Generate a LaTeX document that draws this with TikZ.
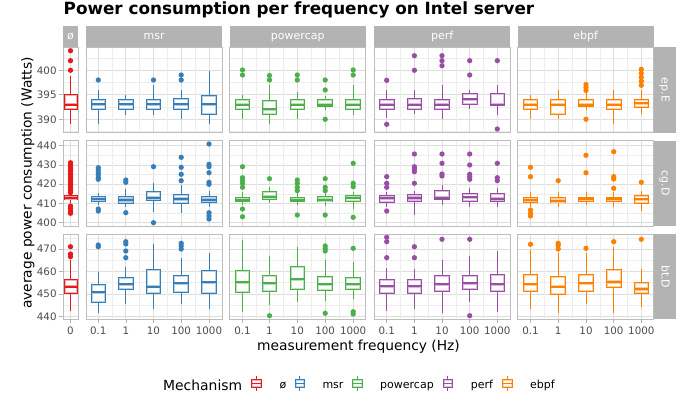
\documentclass[tikz,border=0pt]{standalone}
\usepackage{fontspec}
\setmainfont{DejaVu Sans}
\definecolor{cz}{HTML}{E41A1C}
\definecolor{cb}{HTML}{377EB8}
\definecolor{cg}{HTML}{4DAF4A}
\definecolor{cp}{HTML}{984EA3}
\definecolor{co}{HTML}{FF7F00}
\definecolor{grey70}{HTML}{B3B3B3}
\definecolor{grey30}{HTML}{4D4D4D}
\definecolor{grey87}{HTML}{DEDEDE}
\definecolor{grey93}{HTML}{EDEDED}
\newcommand{\bp}[8]{%
  \draw[#1,line width=1pt] (#2,#4) -- (#2,#5) (#2,#7) -- (#2,#8);
  \fill[white] (#2-#3,#5) rectangle (#2+#3,#7);
  \draw[#1!35,line width=1pt] (#2-#3+1,#5+1) rectangle (#2+#3-1,#7-1);
  \draw[#1,line width=1pt] (#2-#3,#5) rectangle (#2+#3,#7);
  \draw[#1!40,line width=3.4pt] (#2-#3+0.5,#6) -- (#2+#3-0.5,#6);
  \draw[#1,line width=2pt] (#2-#3,#6) -- (#2+#3,#6);
}
\newcommand{\ol}[3]{\foreach \yy in {#3} {\fill[#1] (#2,\yy) circle (2.65);}}
\newcommand{\rowgrid}[4]{%
  \foreach \px/\qx in {63/78,86/222.3,229.6/365.9,374/510.3,517.6/653.9} {
    \fill[white] (\px,#1) rectangle (\qx,#2);
    \foreach \yy in {#3} {\draw[gmin] (\px,\yy) -- (\qx,\yy);}
    \foreach \yy in {#4} {\draw[gmaj] (\px,\yy) -- (\qx,\yy);}
  }
  \foreach \xx in {112,139.6,167.3,195.1,256,283.4,311.2,339.2,400.5,428.2,455.8,483.5,544.3,572.1,599.8,627.5} {\draw[gmin] (\xx,#1) -- (\xx,#2);}
  \foreach \xx in {70.5,98.3,125.8,153.5,181.2,209,242.5,269.5,297.3,325.2,353.2,386.7,414.4,442,469.7,497.3,530.5,558.2,586,613.7,641.3} {\draw[gmaj] (\xx,#1) -- (\xx,#2);}
}
\newcommand{\rowborder}[2]{%
  \foreach \px/\qx in {63/78,86/222.3,229.6/365.9,374/510.3,517.6/653.9} {\draw[pborder] (\px,#1) rectangle (\qx,#2);}
}
\newcommand{\lk}[2]{%
  \draw[#1,line width=1pt] (#2+4.65,375.7) -- (#2+4.65,379.3) (#2+4.65,387.3) -- (#2+4.65,390.7);
  \fill[white] (#2,379.3) rectangle (#2+9.3,387.3);
  \draw[#1!35,line width=0.9pt] (#2+1,380.3) rectangle (#2+8.3,386.3);
  \draw[#1,line width=1pt] (#2,379.3) rectangle (#2+9.3,387.3);
  \draw[#1,line width=1.2pt] (#2,383.3) -- (#2+9.3,383.3);
}
\begin{document}
\begin{tikzpicture}[x=1pt,y=-1pt,
  gmaj/.style={grey87,line width=0.7pt},
  gmin/.style={grey93,line width=0.45pt},
  pborder/.style={draw=grey70!85,line width=0.9pt},
  tk/.style={grey70,line width=0.6pt},
  ytl/.style={anchor=east,inner sep=0pt,text=grey30,font=\fontsize{10.3}{12}\selectfont},
  xtl/.style={anchor=base,inner sep=0pt,text=grey30,font=\fontsize{10.3}{12}\selectfont},
  striptxt/.style={inner sep=0pt,text=white,font=\fontsize{11}{13}\selectfont},
  legtxt/.style={anchor=base west,inner sep=0pt,font=\fontsize{11}{13}\selectfont}]
\useasboundingbox (0,0) rectangle (686,398);
\fill[white] (0,0) rectangle (686,398);
% title
\node[anchor=base west,inner sep=0pt,font=\bfseries\fontsize{16.8}{19}\selectfont] (title) at (63.5,15) {Power consumption per frequency on Intel server};
% top strips
\foreach \px/\qx in {63/78,86/222.3,229.6/365.9,374/510.3,517.6/653.9} {\fill[grey70] (\px,25.7) rectangle (\qx,47.3);}
\node[striptxt,anchor=base] (s0) at (70.5,39.7) {ø};
\node[striptxt,anchor=base] (s1) at (154.15,39.7) {msr};
\node[striptxt,anchor=base] (s2) at (297.75,39.7) {powercap};
\node[striptxt,anchor=base] (s3) at (442.15,39.7) {perf};
\node[striptxt,anchor=base] (s4) at (585.75,39.7) {ebpf};
% right strips
\fill[grey70] (654.3,47.3) rectangle (676,132.7);
\fill[grey70] (654.3,140.7) rectangle (676,226);
\fill[grey70] (654.3,234) rectangle (676,319.3);
\node[striptxt,rotate=-90,text height=1.6ex,text depth=0.2ex] (r1) at (665.5,90) {ep.E};
\node[striptxt,rotate=-90,text height=1.6ex,text depth=0.2ex] (r2) at (665.5,183.3) {cg.D};
\node[striptxt,rotate=-90,text height=1.6ex,text depth=0.2ex] (r3) at (665.5,276.7) {bt.D};
% grids
\rowgrid{47.3}{132.7}{58.1,82.6,107.1,131.6}{70.3,94.8,119.3}
\rowgrid{140.7}{226}{155.3,174.6,193.8,213.1}{145.7,164.9,184.2,203.4,222.7}
\rowgrid{234}{319.3}{237.8,260.2,282.7,305.1}{249,271.4,293.9,316.3}
% ===== Row 1 (ep.E)
\bp{cz}{70.5}{6.5}{76}{95}{104.7}{110}{124.3}\ol{cz}{70.5}{50.7,60.7,70.3}
\bp{cb}{98.3}{7.3}{90}{99.3}{104.3}{110}{124.3}\ol{cb}{98.3}{80}
\bp{cb}{125.8}{7.3}{95}{99.3}{104.3}{109.3}{115}
\bp{cb}{153.5}{7.3}{85}{99.3}{104.3}{110}{115}\ol{cb}{153.5}{80}
\bp{cb}{181.2}{7.3}{90}{98.3}{104.3}{110}{119.3}\ol{cb}{181.2}{75,80}
\bp{cb}{209}{7.3}{70.7}{96}{104.3}{115}{124.3}
\bp{cg}{242.5}{7.3}{95}{99.3}{104.7}{110}{119.3}\ol{cg}{242.5}{70,75}
\bp{cg}{269.5}{7.3}{85}{100.7}{109.3}{114.7}{124.3}\ol{cg}{269.5}{75.5,80}
\bp{cg}{297.3}{7.3}{91.7}{99.3}{104.7}{110}{119.3}\ol{cg}{297.3}{75,80}
\bp{cg}{325.2}{7.3}{96}{99.3}{104.7}{106.7}{110}\ol{cg}{325.2}{80,90,119.3}
\bp{cg}{353.2}{7.3}{85}{99.3}{104.7}{110}{115}\ol{cg}{353.2}{70,75}
\bp{cp}{386.7}{7.3}{90}{99.3}{104.7}{109.3}{118.3}\ol{cp}{386.7}{80.3,124.3}
\bp{cp}{414.4}{7.3}{90}{98.3}{104.7}{110}{114.3}\ol{cp}{414.4}{55.7,70.3}
\bp{cp}{442}{7.3}{85}{99.3}{104.7}{110}{119.3}\ol{cp}{442}{55.7,60.7,65.7}
\bp{cp}{469.7}{7.3}{90}{94}{99.3}{105}{109.3}\ol{cp}{469.7}{60.7,75}
\bp{cp}{497.3}{7.3}{85}{94}{104.7}{106}{115}\ol{cp}{497.3}{60.7,129}
\bp{co}{530.5}{7.3}{95}{99.3}{104.7}{110}{119.3}
\bp{co}{558.2}{7.3}{90}{99.3}{104.7}{115}{119.3}
\bp{co}{586}{7.3}{93.3}{99.3}{104.7}{106.7}{110}\ol{co}{586}{84.5,87.5,90.5,119.3}
\bp{co}{613.7}{7.3}{90}{99.3}{104.7}{110}{124.3}
\bp{co}{641.3}{7.3}{90}{99.3}{103.3}{107.3}{114.3}\ol{co}{641.3}{69.3,73.3,77.3,81.3,85.3}
% ===== Row 2 (cg.D)
\bp{cz}{70.5}{6.5}{193.5}{196}{198}{200}{203.5}\ol{cz}{70.5}{162.7,164.7,...,192.7}\ol{cz}{70.5}{206,208.5,211,213.3}
\bp{cb}{98.3}{7.3}{192.7}{197}{199.3}{201.3}{205}\ol{cb}{98.3}{167.7,170,172.7,175,177.7,179.3,209,211}
\bp{cb}{125.8}{7.3}{189.3}{197}{200}{203.3}{207.3}\ol{cb}{125.8}{180,182.3,212.7}
\bp{cb}{153.5}{7.3}{182.7}{191.7}{197.7}{201}{212.3}\ol{cb}{153.5}{166.7,222.7}
\bp{cb}{181.2}{7.3}{185}{194.3}{199}{203.3}{212.7}\ol{cb}{181.2}{157.3,167.3,174.3,180.7}
\bp{cb}{209}{7.3}{191}{197}{199.7}{202.3}{206.7}\ol{cb}{209}{144,164.3,166.7,172.7,182.3,184.3,212.7,216,219}
\bp{cg}{242.5}{7.3}{191.7}{197.3}{199.7}{202}{205}\ol{cg}{242.5}{166.7,177.7,180.5,183.3,187.3,209,216.7}
\bp{cg}{269.5}{7.3}{186.7}{191.7}{196.7}{200}{202.7}\ol{cg}{269.5}{178.7}
\bp{cg}{297.3}{7.3}{193.3}{197.3}{199.7}{202}{205}\ol{cg}{297.3}{180,183.3,187.3,190.7,215}
\bp{cg}{325.2}{7.3}{193.3}{197}{200}{202}{206}\ol{cg}{325.2}{178.7,187.3,190.7,215}
\bp{cg}{353.2}{7.3}{191.7}{195.3}{197.7}{202}{209}\ol{cg}{353.2}{163.3,183.3,186.7,217.3}
\bp{cp}{386.7}{7.3}{191.7}{196}{198.3}{202.7}{206.7}\ol{cp}{386.7}{176.7,183.3,187.3,211}
\bp{cp}{414.4}{7.3}{190.7}{194.3}{198}{201.7}{215}\ol{cp}{414.4}{154,166.7,169,171.7,183.3}
\bp{cp}{442}{7.3}{185}{191}{197.7}{200}{205}\ol{cp}{442}{154,163.3,174,176}
\bp{cp}{469.7}{7.3}{188.3}{193.3}{197.3}{201.7}{207.3}\ol{cp}{469.7}{154,165,174.3,176.7,179.3}
\bp{cp}{497.3}{7.3}{188.3}{194}{199}{202}{206.7}\ol{cp}{497.3}{163.3,177.7,180.7}
\bp{co}{530.5}{7.3}{192.3}{197.3}{200}{202.7}{207.3}\ol{co}{530.5}{167.3,176.7,210,213.3,216}
\bp{co}{558.2}{7.3}{192.3}{197.7}{201}{202.7}{206.7}\ol{co}{558.2}{180.7}
\bp{co}{586}{7.3}{192.3}{197.3}{199.3}{201.7}{205}\ol{co}{586}{155.3,172.7}
\bp{co}{613.7}{7.3}{192.3}{197.3}{199.3}{201.7}{207.3}\ol{co}{613.7}{151.7,176.7,179,188.3}
\bp{co}{641.3}{7.3}{191}{195.7}{199.3}{203.3}{210.7}\ol{co}{641.3}{182.3}
% ===== Row 3 (bt.D)
\bp{cz}{70.5}{6.5}{260}{280}{286.7}{293.7}{311}\ol{cz}{70.5}{246.7,254,256.7}
\bp{cb}{98.3}{7.3}{271.7}{284.3}{292.3}{303}{313.3}\ol{cb}{98.3}{245,246.7}
\bp{cb}{125.8}{7.3}{267.3}{277.3}{284.3}{289.3}{304.3}\ol{cb}{125.8}{241.7,244,251,257.7}
\bp{cb}{153.5}{7.3}{244.3}{270}{286.7}{293.7}{309}
\bp{cb}{181.2}{7.3}{258.3}{275.7}{283.3}{292.3}{304}\ol{cb}{181.2}{243.3,246,249}
\bp{cb}{209}{7.3}{253.3}{270.7}{282.3}{294}{309.3}
\bp{cg}{242.5}{7.3}{240}{270.3}{282.3}{292.3}{311.7}
\bp{cg}{269.5}{7.3}{255.7}{275.7}{283.3}{291.7}{305}\ol{cg}{269.5}{315.7}
\bp{cg}{297.3}{7.3}{246.7}{266.7}{279.3}{289.3}{302.3}
\bp{cg}{325.2}{7.3}{260}{277}{284.3}{290.3}{301}\ol{cg}{325.2}{246,248.3,251,313.3}
\bp{cg}{353.2}{7.3}{262.3}{277.3}{284.3}{289.7}{299}\ol{cg}{353.2}{248.3,311.7,314}
\bp{cp}{386.7}{7.3}{268.3}{279.3}{286.3}{293.3}{311}\ol{cp}{386.7}{237.3,241.7,257.7}
\bp{cp}{414.4}{7.3}{269}{279.3}{286.3}{293.3}{309}\ol{cp}{414.4}{246.7,257.7}
\bp{cp}{442}{7.3}{260}{275.7}{284.3}{291.7}{313.3}\ol{cp}{442}{239.3}
\bp{cp}{469.7}{7.3}{255.7}{275.7}{283.3}{290}{302.3}\ol{cp}{469.7}{239.3,315.7}
\bp{cp}{497.3}{7.3}{251}{275}{284.3}{291.7}{311.7}
\bp{co}{530.5}{7.3}{250}{275}{284.3}{291.7}{309.3}\ol{co}{530.5}{244.3}
\bp{co}{558.2}{7.3}{253.3}{276.7}{286.7}{294.3}{313.3}\ol{co}{558.2}{243.3,245.7,249}
\bp{co}{586}{7.3}{253.3}{275}{283.3}{291.7}{304.3}\ol{co}{586}{248.3}
\bp{co}{613.7}{7.3}{246.7}{269.3}{282}{287.3}{313.3}\ol{co}{613.7}{241.7}
\bp{co}{641.3}{7.3}{269}{282.3}{289}{294}{306.7}\ol{co}{641.3}{239.3}
% borders
\rowborder{47.3}{132.7}
\rowborder{140.7}{226}
\rowborder{234}{319.3}
% y axis ticks and labels
\foreach \v/\yy in {400/70.3,395/94.8,390/119.3,440/145.7,430/164.9,420/184.2,410/203.4,400/222.7,470/249,460/271.4,450/293.9,440/316.3} {
  \draw[tk] (59.3,\yy) -- (63,\yy);
  \node[ytl] at (56.8,\yy) {\v};
}
% x axis ticks and labels
\foreach \xx/\lab in {70.5/0,98.3/0.1,125.8/1,153.5/10,181.2/100,209/1000,242.5/0.1,269.5/1,297.3/10,325.2/100,353.2/1000,386.7/0.1,414.4/1,442/10,469.7/100,497.3/1000,530.5/0.1,558.2/1,586/10,613.7/100,641.3/1000} {
  \draw[tk] (\xx,319.3) -- (\xx,322.8);
  \node[xtl] at (\xx,334.3) {\lab};
}
% axis titles
\node[anchor=base,inner sep=0pt,font=\fontsize{13.8}{16}\selectfont] (xt) at (358.5,350) {measurement frequency (Hz)};
\node[anchor=base,inner sep=0pt,rotate=90,font=\fontsize{13.8}{16}\selectfont] (yt) at (31.5,183) {average power consumption (Watts)};
% legend
\node[anchor=base west,inner sep=0pt,font=\fontsize{13.9}{16}\selectfont] (legt) at (163,390.5) {Mechanism};
\lk{cz}{251.7}\node[legtxt] (l0) at (279.3,388.8) {ø};
\lk{cb}{295}\node[legtxt] (l1) at (322.3,388.8) {msr};
\lk{cg}{352.7}\node[legtxt] (l2) at (380,388.8) {powercap};
\lk{cp}{443.3}\node[legtxt] (l3) at (470.7,388.8) {perf};
\lk{co}{502.7}\node[legtxt] (l4) at (530,388.8) {ebpf};
\end{tikzpicture}
\end{document}
